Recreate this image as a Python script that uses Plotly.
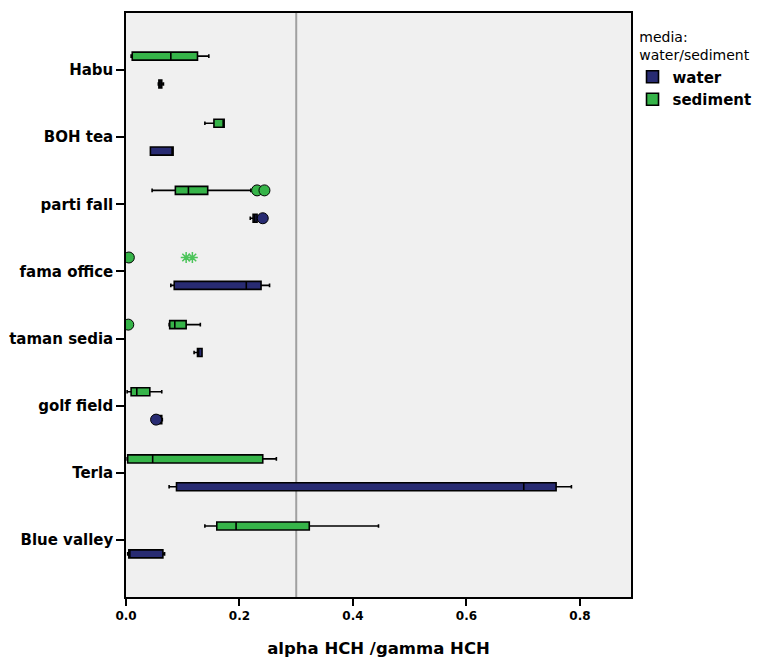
import plotly.graph_objects as go

# ---- data ----
sites = ["Habu", "BOH tea", "parti fall", "fama office", "taman sedia",
         "golf field", "Terla", "Blue valley"]

# sediment box statistics
sed_low = [0.009, 0.139, 0.046, 0.0, 0.076, 0.002, 0.002, 0.139]
sed_q1 = [0.011, 0.155, 0.087, 0.0, 0.077, 0.009, 0.003, 0.160]
sed_med = [0.079, 0.172, 0.110, 0.0, 0.086, 0.019, 0.047, 0.194]
sed_q3 = [0.126, 0.173, 0.144, 0.0, 0.106, 0.042, 0.241, 0.323]
sed_up = [0.146, 0.173, 0.220, 0.0, 0.131, 0.063, 0.265, 0.445]

# water box statistics
wat_low = [0.057, 0.043, 0.219, 0.079, 0.120, 0.057, 0.076, 0.003]
wat_q1 = [0.058, 0.043, 0.224, 0.085, 0.126, 0.058, 0.089, 0.005]
wat_med = [0.060, 0.082, 0.227, 0.212, 0.128, 0.060, 0.701, 0.006]
wat_q3 = [0.063, 0.083, 0.231, 0.238, 0.134, 0.063, 0.758, 0.065]
wat_up = [0.066, 0.083, 0.231, 0.253, 0.134, 0.064, 0.785, 0.068]

# outliers (circles) and extremes (stars)
sed_out_site = ["parti fall", "parti fall", "fama office", "taman sedia"]
sed_out_val = [0.231, 0.244, 0.005, 0.004]
sed_ext_site = ["fama office", "fama office"]
sed_ext_val = [0.106, 0.117]
wat_out_site = ["parti fall", "golf field"]
wat_out_val = [0.241, 0.053]

ref_value = 0.3

# ---- styling ----
WATER = "#282B72"
SEDIMENT = "#36B449"
STAR = "#4CC45A"
FONT = "DejaVu Sans, Liberation Sans, Arial, sans-serif"
GAP = 0.17

fig = go.Figure()

fig.add_trace(go.Box(
    name="sediment", y=sites, orientation="h",
    offsetgroup="sed", alignmentgroup="all",
    q1=sed_q1, median=sed_med, q3=sed_q3,
    lowerfence=sed_low, upperfence=sed_up,
    fillcolor=SEDIMENT, line=dict(color="black", width=1.6),
    whiskerwidth=0.45, boxpoints=False, legendrank=2,
))
fig.add_trace(go.Box(
    name="water", y=sites, orientation="h",
    offsetgroup="wat", alignmentgroup="all",
    q1=wat_q1, median=wat_med, q3=wat_q3,
    lowerfence=wat_low, upperfence=wat_up,
    fillcolor=WATER, line=dict(color="black", width=1.6),
    whiskerwidth=0.45, boxpoints=False, legendrank=1,
))

fig.add_trace(go.Scatter(
    x=sed_out_val, y=sed_out_site, mode="markers", orientation="h",
    offsetgroup="sed", alignmentgroup="all",
    marker=dict(symbol="circle", size=11, color=SEDIMENT,
                line=dict(color="black", width=1)),
    showlegend=False, hoverinfo="x",
))
fig.add_trace(go.Scatter(
    x=sed_ext_val, y=sed_ext_site, mode="markers", orientation="h",
    offsetgroup="sed", alignmentgroup="all",
    marker=dict(symbol="asterisk-open", size=9, color=STAR,
                line=dict(color=STAR, width=1.5)),
    showlegend=False, hoverinfo="x",
))
fig.add_trace(go.Scatter(
    x=wat_out_val, y=wat_out_site, mode="markers", orientation="h",
    offsetgroup="wat", alignmentgroup="all",
    marker=dict(symbol="circle", size=11, color=WATER,
                line=dict(color="black", width=1)),
    showlegend=False, hoverinfo="x",
))

fig.add_vline(x=ref_value, line=dict(color="#A0A0A0", width=2), layer="below")

fig.update_layout(
    template="none",
    width=761, height=660,
    margin=dict(l=118, r=138, t=5, b=71, autoexpand=False),
    paper_bgcolor="white", plot_bgcolor="#F0F0F0",
    font=dict(family=FONT, color="black"),
    boxmode="group", boxgap=GAP, boxgroupgap=0.71,
    scattermode="group", scattergap=GAP,
    legend=dict(
        x=1.003, xanchor="left", y=0.981, yanchor="top",
        bgcolor="rgba(0,0,0,0)",
        title=dict(text="media:<br>water/sediment", side="top center",
                   font=dict(size=14, family=FONT, weight="normal")),
        font=dict(size=15, family=FONT, weight="bold"),
        tracegroupgap=0, itemwidth=30,
    ),
    showlegend=True,
)

fig.update_xaxes(
    range=[0, 0.89], tickvals=[0, 0.2, 0.4, 0.6, 0.8],
    ticktext=["0.0", "0.2", "0.4", "0.6", "0.8"],
    ticks="outside", ticklen=7, tickwidth=1.5, tickcolor="black",
    tickfont=dict(size=12, weight="bold"),
    showgrid=False, zeroline=False, automargin=False,
    showline=True, linecolor="black", linewidth=1.5, mirror=True,
    title=dict(text="alpha HCH /gamma HCH", font=dict(size=16.5, weight="bold"), standoff=20),
)
fig.update_yaxes(
    type="category", categoryorder="array", categoryarray=sites,
    range=[7.85, -0.85], automargin=False,
    ticks="outside", ticklen=8, tickwidth=1.5, tickcolor="black",
    tickfont=dict(size=15, weight="bold"),
    showgrid=False, zeroline=False,
    showline=True, linecolor="black", linewidth=1.5, mirror=True,
)

fig.write_html("out.html")
